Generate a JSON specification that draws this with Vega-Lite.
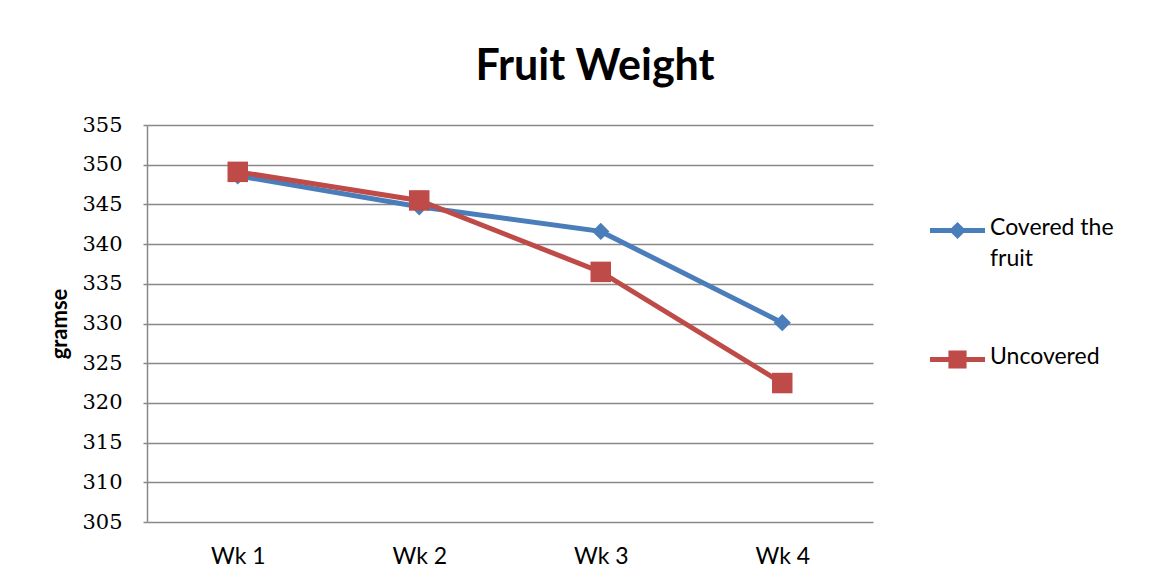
{
  "$schema": "https://vega.github.io/schema/vega-lite/v6.json",
  "width": 726,
  "height": 397,
  "autosize": "none",
  "padding": {"left": 147, "top": 125, "right": 297, "bottom": 58},
  "background": "white",
  "title": {
    "text": "Fruit Weight",
    "font": "Lato",
    "fontSize": 43,
    "fontWeight": "bold",
    "color": "black",
    "anchor": "middle",
    "dx": 85,
    "offset": 25
  },
  "data": {
    "values": [
      {"week": "Wk 1", "series": "Covered the fruit", "value": 348.6},
      {"week": "Wk 2", "series": "Covered the fruit", "value": 344.7},
      {"week": "Wk 3", "series": "Covered the fruit", "value": 341.6},
      {"week": "Wk 4", "series": "Covered the fruit", "value": 330.1},
      {"week": "Wk 1", "series": "Uncovered", "value": 349.1},
      {"week": "Wk 2", "series": "Uncovered", "value": 345.5},
      {"week": "Wk 3", "series": "Uncovered", "value": 336.5},
      {"week": "Wk 4", "series": "Uncovered", "value": 322.5}
    ]
  },
  "encoding": {
    "x": {
      "field": "week",
      "type": "ordinal",
      "scale": {"padding": 0.5},
      "axis": {
        "title": null,
        "labelAngle": 0,
        "labelFont": "Lato",
        "labelFontSize": 23,
        "labelColor": "black",
        "labelPadding": 23,
        "ticks": false,
        "domain": false,
        "grid": false
      }
    },
    "y": {
      "field": "value",
      "type": "quantitative",
      "scale": {"domain": [305, 355], "nice": false, "zero": false},
      "axis": {
        "title": "gramse",
        "titleFont": "Lato",
        "titleFontSize": 22,
        "titleFontWeight": "bold",
        "titleColor": "black",
        "titlePadding": 10,
        "values": [305, 310, 315, 320, 325, 330, 335, 340, 345, 350, 355],
        "labelFont": "DejaVu Serif",
        "labelFontSize": 21,
        "labelColor": "black",
        "labelPadding": 21,
        "ticks": true,
        "tickSize": 4,
        "tickColor": "#888888",
        "tickWidth": 1.5,
        "domain": true,
        "domainColor": "#888888",
        "domainWidth": 1.5,
        "grid": true,
        "gridColor": "#888888",
        "gridWidth": 1.5,
        "gridOpacity": 1
      }
    },
    "color": {
      "field": "series",
      "type": "nominal",
      "scale": {"domain": ["Covered the fruit", "Uncovered"], "range": ["#4A7EBB", "#BE4B48"]},
      "legend": {
        "title": null,
        "orient": "none",
        "legendX": 783,
        "legendY": 78,
        "symbolSize": 3025,
        "symbolStrokeWidth": 0,
        "labelFont": "Lato",
        "labelFontSize": 23,
        "labelColor": "black",
        "labelOffset": 5,
        "labelLimit": 300,
        "rowPadding": 61,
        "encode": {
          "symbols": {
            "update": {
              "shape": {"signal": "datum.value === 'Uncovered' ? 'M-1,-0.09H-0.33V-0.33H0.33V-0.09H1V0.09H0.33V0.33H-0.33V0.09H-1Z' : 'M-1,-0.09H-0.22L0,-0.31L0.22,-0.09H1V0.09H0.22L0,0.31L-0.22,0.09H-1Z'"},
              "fill": {"scale": "color", "field": "value"},
              "fillOpacity": {"value": 1},
              "strokeWidth": {"value": 0},
              "opacity": {"value": 1}
            }
          },
          "labels": {
            "update": {
              "text": {"signal": "datum.value === 'Covered the fruit' ? ['Covered the', 'fruit'] : datum.value"},
              "baseline": {"value": "top"},
              "dy": {"value": -14},
              "lineHeight": {"value": 31}
            }
          }
        }
      }
    }
  },
  "layer": [
    {
      "mark": {"type": "line", "strokeWidth": 5, "strokeCap": "round"}
    },
    {
      "transform": [{"filter": "datum.series === 'Covered the fruit'"}],
      "mark": {"type": "point", "shape": "diamond", "filled": true, "opacity": 1, "size": 300}
    },
    {
      "transform": [{"filter": "datum.series === 'Uncovered'"}],
      "mark": {"type": "point", "shape": "square", "filled": true, "opacity": 1, "size": 420}
    }
  ],
  "config": {
    "view": {"stroke": null}
  }
}
